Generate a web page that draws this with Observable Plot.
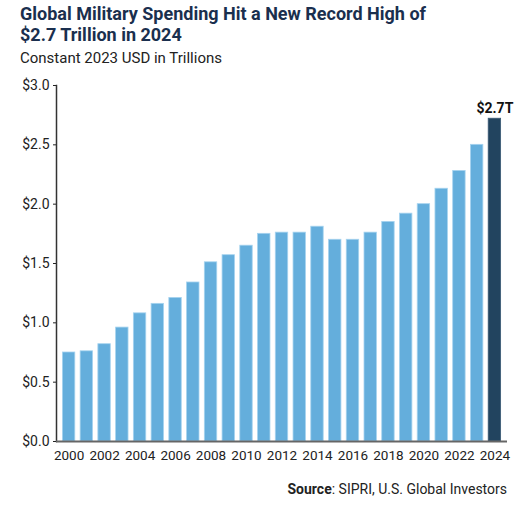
<!DOCTYPE html>
<html>
<head>
<meta charset="utf-8">
<script src="https://cdn.jsdelivr.net/npm/d3@7"></script>
<script src="https://cdn.jsdelivr.net/npm/@observablehq/plot@0.6"></script>
<style>
  body { margin: 0; background: #fff; width: 525px; height: 505px; overflow: hidden; font-family: "Roboto", sans-serif; }
  #title { position: absolute; left: 20px; top: 3px; font-size: 18px; font-weight: bold; color: #1a2f4e; line-height: 21px; }
  #subtitle { position: absolute; left: 20px; top: 49px; font-size: 15px; color: #222; }
  #chart { position: absolute; left: 0; top: 68px; }
  #source { position: absolute; right: 18px; top: 481px; font-size: 14px; color: #222; }
</style>
</head>
<body>
<div id="title">Global Military Spending Hit a New Record High of<br>$2.7 Trillion in 2024</div>
<div id="subtitle">Constant 2023 USD in Trillions</div>
<div id="chart"></div>
<div id="source"><b>Source</b>: SIPRI, U.S. Global Investors</div>
<script>
const years = [2000,2001,2002,2003,2004,2005,2006,2007,2008,2009,2010,2011,2012,2013,2014,2015,2016,2017,2018,2019,2020,2021,2022,2023,2024];
const spending = [0.75,0.76,0.82,0.96,1.08,1.16,1.21,1.34,1.51,1.57,1.65,1.75,1.76,1.76,1.81,1.70,1.70,1.76,1.85,1.92,2.00,2.13,2.28,2.50,2.72];
const xTickYears = [2000,2002,2004,2006,2008,2010,2012,2014,2016,2018,2020,2022,2024];
const yTicks = [0,0.5,1.0,1.5,2.0,2.5,3.0];
const highlightYear = 2024;
const highlightLabel = "$2.7T";

const data = years.map((y, i) => ({year: y, value: spending[i]}));

const chart = Plot.plot({
  width: 525,
  height: 405,
  marginLeft: 56,
  marginRight: 18,
  marginTop: 17,
  marginBottom: 32,
  style: {fontFamily: 'Roboto, sans-serif', fontSize: "14px", color: "#222"},
  x: {type: "band", domain: years, paddingInner: 0.3, paddingOuter: 0.36, align: 0.5, round: false},
  y: {domain: [0, 3]},
  marks: [
    Plot.barY(data, {
      x: "year", y: "value",
      fill: d => d.year === highlightYear ? "#22445f" : "#64aedc",
      stroke: d => d.year === highlightYear ? "#3a5a75" : "#a6d3ef",
      strokeWidth: 0.8
    }),
    Plot.text(data.filter(d => d.year === highlightYear), {
      x: "year", y: "value", text: () => highlightLabel,
      dy: -10, fontWeight: "bold", fontSize: 14, fill: "#111"
    }),
    Plot.axisY({ticks: yTicks, tickFormat: d => "$" + d.toFixed(1), tickSize: 3, tickPadding: 4, fontSize: 14, label: null}),
    Plot.axisX({ticks: xTickYears, tickSize: 0, tickPadding: 9, fontSize: 13.5, label: null, tickFormat: d => String(d)}),
    Plot.frame({anchor: "left", stroke: "#333", strokeWidth: 1.5}),
    Plot.ruleY([0], {stroke: "#666", strokeWidth: 2})
  ]
});
document.getElementById("chart").appendChild(chart);
</script>
</body>
</html>
